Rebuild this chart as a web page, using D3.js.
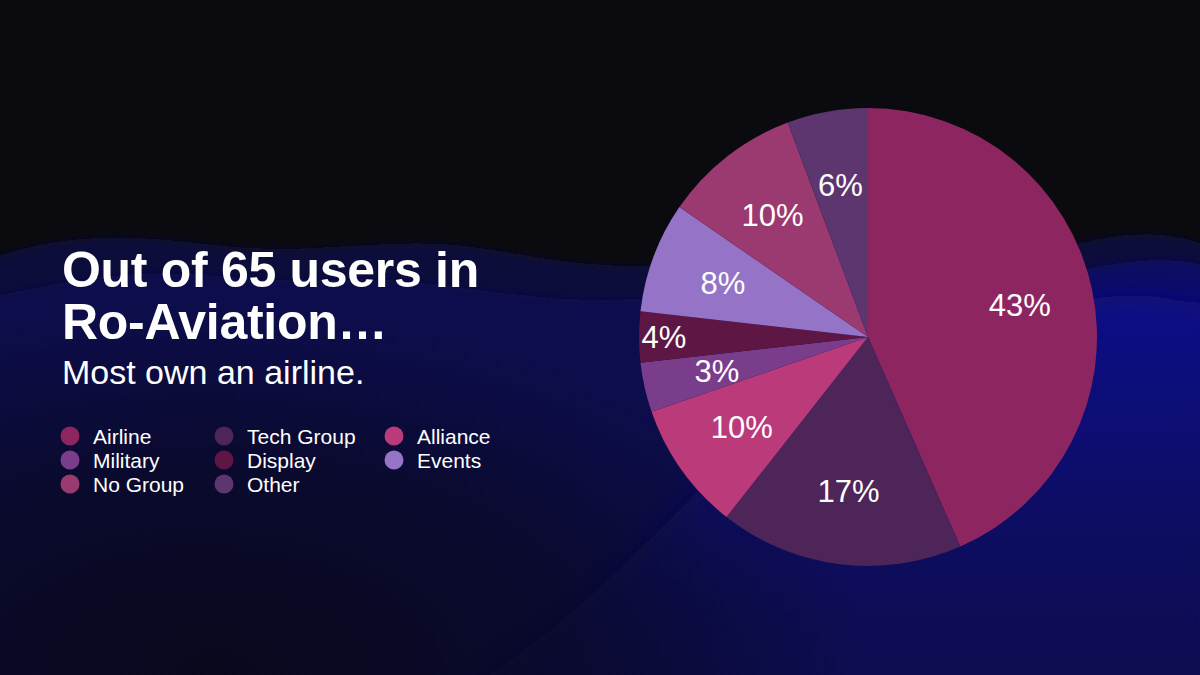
<!DOCTYPE html>
<html>
<head>
<meta charset="utf-8">
<script src="https://cdn.jsdelivr.net/npm/d3@7"></script>
<style>
  html, body { margin: 0; padding: 0; background: #0b0b0f; }
  svg { display: block; }
  text { font-family: "Liberation Sans", Arial, Helvetica, sans-serif; fill: #fff; }
</style>
</head>
<body>
<div id="chart"></div>
<script>
// chart data (wedge sizes, labels as printed)
var categories = ["Airline", "Tech Group", "Alliance", "Military", "Display", "Events", "No Group", "Other"];
var shares = [43.4, 17.2, 9.1, 3.5, 3.6, 7.8, 9.7, 5.7];
var shareLabels = ["43%", "17%", "10%", "3%", "4%", "8%", "10%", "6%"];
var sliceColors = ["#8d2660", "#4d2558", "#ba3a7a", "#7a3d8c", "#5e1745", "#9574c7", "#9b3a71", "#5e366f"];
// legend is laid out column by column, in this order
var legendOrder = ["Airline", "Military", "No Group", "Tech Group", "Display", "Other", "Alliance", "Events"];

var svgWidth = 1200;
var svgHeight = 675;

var svg = d3.select("#chart")
  .append("svg")
  .attr("width", svgWidth)
  .attr("height", svgHeight);

var defs = svg.append("defs");

// -----------------------------------------------------------------------------
// background: dark sky with blurred navy "hills"
defs.append("filter").attr("id", "soft")
  .attr("x", "-10%").attr("y", "-20%").attr("width", "120%").attr("height", "140%")
  .append("feGaussianBlur").attr("stdDeviation", 3);
defs.append("filter").attr("id", "softer")
  .attr("x", "-20%").attr("y", "-20%").attr("width", "140%").attr("height", "140%")
  .append("feGaussianBlur").attr("stdDeviation", 14);

var g1 = defs.append("linearGradient").attr("id", "hillBack").attr("x1", 0).attr("y1", 0).attr("x2", 0).attr("y2", 1);
g1.append("stop").attr("offset", "0%").attr("stop-color", "#0e0f3c");
g1.append("stop").attr("offset", "100%").attr("stop-color", "#0a0a2e");

var g2 = defs.append("linearGradient").attr("id", "hillMid").attr("x1", 0).attr("y1", 0).attr("x2", 1).attr("y2", 0);
g2.append("stop").attr("offset", "0%").attr("stop-color", "#0f1150");
g2.append("stop").attr("offset", "55%").attr("stop-color", "#0c0d52");
g2.append("stop").attr("offset", "100%").attr("stop-color", "#0d0e6e");

var g3 = defs.append("linearGradient").attr("id", "hillFront").attr("x1", 0).attr("y1", 0).attr("x2", 0).attr("y2", 1);
g3.append("stop").attr("offset", "0%").attr("stop-color", "#10118a");
g3.append("stop").attr("offset", "55%").attr("stop-color", "#0c0c5c");
g3.append("stop").attr("offset", "100%").attr("stop-color", "#0b0b48");

var shade = defs.append("radialGradient").attr("id", "shade")
  .attr("cx", 0.18).attr("cy", 1.0).attr("r", 0.55);
shade.append("stop").attr("offset", "0%").attr("stop-color", "#08081a").attr("stop-opacity", 0.95);
shade.append("stop").attr("offset", "55%").attr("stop-color", "#08081a").attr("stop-opacity", 0.6);
shade.append("stop").attr("offset", "100%").attr("stop-color", "#08081a").attr("stop-opacity", 0);

svg.append("rect").attr("width", svgWidth).attr("height", svgHeight).attr("fill", "#0b0b0f");

var hx = d3.scaleLinear().domain([0, 1]).range([-20, svgWidth + 20]);
var hill = d3.area()
  .x(function(d) { return hx(d[0]); })
  .y0(svgHeight + 60)
  .y1(function(d) { return d[1]; })
  .curve(d3.curveBasis);

// ridge profiles (x fraction, top edge)
var ridgeBack = [[0, 262], [0.06, 238], [0.14, 236], [0.22, 252], [0.3, 246], [0.38, 240], [0.46, 262], [0.55, 270], [0.64, 250], [0.74, 248], [0.84, 262], [0.9, 236], [0.96, 232], [1, 250]];
var ridgeMid = [[0, 300], [0.08, 278], [0.16, 270], [0.24, 284], [0.32, 276], [0.4, 290], [0.5, 305], [0.6, 290], [0.72, 285], [0.82, 300], [0.9, 262], [0.97, 258], [1, 270]];
var ridgeFront = [[0, 780], [0.3, 780], [0.5, 600], [0.62, 430], [0.72, 360], [0.8, 330], [0.88, 300], [0.94, 292], [0.98, 306], [1, 300]];

svg.append("path").datum(ridgeBack).attr("d", hill).attr("fill", "url(#hillBack)").attr("filter", "url(#soft)");
svg.append("path").datum(ridgeMid).attr("d", hill).attr("fill", "url(#hillMid)").attr("opacity", 0.85).attr("filter", "url(#soft)");
svg.append("path").datum(ridgeFront).attr("d", hill).attr("fill", "url(#hillFront)").attr("filter", "url(#softer)");

// darker shadow in the lower left
svg.append("rect")
  .attr("width", svgWidth).attr("height", svgHeight)
  .attr("fill", "url(#shade)");

// -----------------------------------------------------------------------------
// title block
var titleGroup = svg.append("g").attr("transform", "translate(62, 0)");

titleGroup.append("text")
  .attr("y", 287)
  .style("font-size", "50px")
  .style("font-weight", "bold")
  .style("letter-spacing", "-0.3px")
  .text("Out of 65 users in");

titleGroup.append("text")
  .attr("y", 339)
  .style("font-size", "50px")
  .style("font-weight", "bold")
  .style("letter-spacing", "-0.3px")
  .text("Ro-Aviation\u2026");

titleGroup.append("text")
  .attr("y", 384)
  .style("font-size", "34px")
  .text("Most own an airline.");

// -----------------------------------------------------------------------------
// legend
var colorOf = d3.scaleOrdinal().domain(categories).range(sliceColors);

var legendCols = [70, 224, 394];
var legendRowStep = 24;

var legendItems = svg.append("g")
  .selectAll("g")
  .data(legendOrder)
  .enter()
  .append("g")
  .attr("transform", function(d, i) {
    var col = Math.floor(i / 3);
    var row = i % 3;
    return "translate(" + legendCols[col] + "," + (436 + row * legendRowStep) + ")";
  });

legendItems.append("circle")
  .attr("r", 9.5)
  .attr("fill", function(d) { return colorOf(d); });

legendItems.append("text")
  .attr("x", 23)
  .attr("dy", "0.36em")
  .style("font-size", "21px")
  .text(function(d) { return d; });

// -----------------------------------------------------------------------------
// pie
var cx = 868;
var cy = 337;
var radius = 229;

var pieData = categories.map(function(c, i) {
  return { name: c, value: shares[i], label: shareLabels[i] };
});

var pie = d3.pie()
  .sort(null)
  .value(function(d) { return d.value; });

var arc = d3.arc().innerRadius(0).outerRadius(radius);

var pieGroup = svg.append("g").attr("transform", "translate(" + cx + "," + cy + ")");

var slices = pie(pieData);

pieGroup.selectAll("path")
  .data(slices)
  .enter()
  .append("path")
  .attr("d", arc)
  .attr("fill", function(d) { return colorOf(d.data.name); });

// the thin Display wedge pushes its label out toward the rim
var labelRadius = function(d) { return d.data.name === "Display" ? 204 : 155; };

pieGroup.selectAll("text")
  .data(slices)
  .enter()
  .append("text")
  .attr("transform", function(d) {
    var r = labelRadius(d);
    var c = d3.arc().innerRadius(r).outerRadius(r).centroid(d);
    return "translate(" + c[0] + "," + c[1] + ")";
  })
  .attr("text-anchor", "middle")
  .attr("dy", "0.36em")
  .style("font-size", "31px")
  .text(function(d) { return d.data.label; });
</script>
</body>
</html>
